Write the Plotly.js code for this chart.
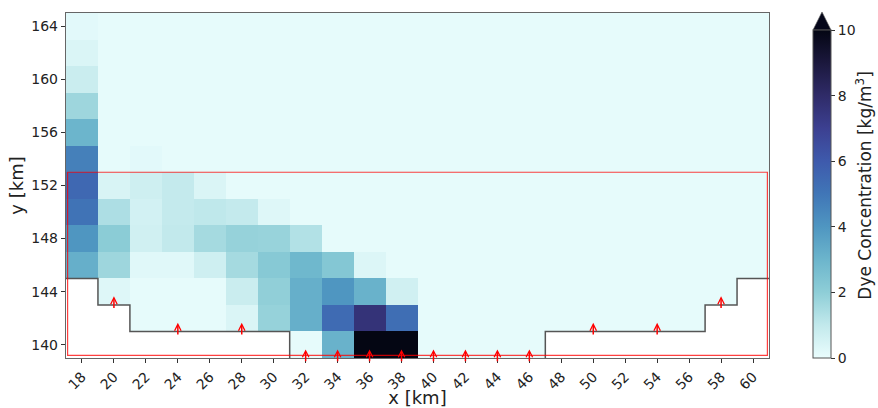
<!DOCTYPE html>
<html>
<head>
<meta charset="utf-8">
<script src="https://cdn.plot.ly/plotly-3.0.1.min.js"></script>
<style>html,body{margin:0;padding:0;background:#fff;}#chart{width:878px;height:408px;}</style>
</head>
<body>
<div id="chart"></div>
<script>
// x cell centres (km) and y cell centres (km)
const xCenters = [18,20,22,24,26,28,30,32,34,36,38,40,42,44,46,48,50,52,54,56,58,60];
const yCenters = [140,142,144,146,148,150,152,154,156,158,160,162,164];

// Dye concentration rows (kg/m^3), one per y centre; null = land
const row140 = [null,null,null,null,null,null,null,0.1,3.1,12,11,0.1,0.1,0.1,0.1,null,null,null,null,null,null,null];
const row142 = [null,null,0.1,0.1,0.1,0.4,1.85,3.2,5.4,7.6,5.3,0.1,0.1,0.1,0.1,0.1,0.1,0.1,0.1,0.1,null,null];
const row144 = [null,0.3,0.1,0.1,0.1,0.8,1.95,3.2,4.0,3.1,0.65,0.1,0.1,0.1,0.1,0.1,0.1,0.1,0.1,0.1,0.1,null];
const row146 = [3.2,1.7,0.25,0.25,0.7,1.55,2.2,2.9,2.3,0.35,0.1,0.1,0.1,0.1,0.1,0.1,0.1,0.1,0.1,0.1,0.1,0.1];
const row148 = [4.0,2.1,0.65,1.0,1.55,1.85,1.8,1.3,0.1,0.1,0.1,0.1,0.1,0.1,0.1,0.1,0.1,0.1,0.1,0.1,0.1,0.1];
const row150 = [5.1,1.4,0.6,0.95,1.05,0.95,0.3,0.1,0.1,0.1,0.1,0.1,0.1,0.1,0.1,0.1,0.1,0.1,0.1,0.1,0.1,0.1];
const row152 = [5.5,0.45,0.7,0.95,0.4,0.1,0.1,0.1,0.1,0.1,0.1,0.1,0.1,0.1,0.1,0.1,0.1,0.1,0.1,0.1,0.1,0.1];
const row154 = [4.7,0.1,0.2,0.1,0.1,0.1,0.1,0.1,0.1,0.1,0.1,0.1,0.1,0.1,0.1,0.1,0.1,0.1,0.1,0.1,0.1,0.1];
const row156 = [3.0,0.1,0.1,0.1,0.1,0.1,0.1,0.1,0.1,0.1,0.1,0.1,0.1,0.1,0.1,0.1,0.1,0.1,0.1,0.1,0.1,0.1];
const row158 = [1.7,0.1,0.1,0.1,0.1,0.1,0.1,0.1,0.1,0.1,0.1,0.1,0.1,0.1,0.1,0.1,0.1,0.1,0.1,0.1,0.1,0.1];
const row160 = [0.8,0.1,0.1,0.1,0.1,0.1,0.1,0.1,0.1,0.1,0.1,0.1,0.1,0.1,0.1,0.1,0.1,0.1,0.1,0.1,0.1,0.1];
const row162 = [0.4,0.1,0.1,0.1,0.1,0.1,0.1,0.1,0.1,0.1,0.1,0.1,0.1,0.1,0.1,0.1,0.1,0.1,0.1,0.1,0.1,0.1];
const row164 = [0.2,0.1,0.1,0.1,0.1,0.1,0.1,0.1,0.1,0.1,0.1,0.1,0.1,0.1,0.1,0.1,0.1,0.1,0.1,0.1,0.1,0.1];

// coastline (land boundary) polylines
const coastLeftX = [17,19,19,21,21,31,31];
const coastLeftY = [145,145,143,143,141,141,139];
const coastRightX = [47,47,57,57,59,59,61];
const coastRightY = [139,141,141,143,143,145,145];

// inflow arrows: x position and coast level
const arrowX = [20,24,28,32,34,36,38,40,42,44,46,50,54,58];
const arrowBase = [143,141,141,139,139,139,139,139,139,139,139,141,141,143];

// region box
const boxX = [17.1, 60.9];
const boxY = [139.2, 153];

const colorbarTicks = [0,2,4,6,8,10];

const iceR = [
  [0.0,'rgb(234,253,253)'],
  [0.1,'rgb(194,233,236)'],
  [0.2,'rgb(142,206,215)'],
  [0.3,'rgb(108,181,204)'],
  [0.4,'rgb(79,150,193)'],
  [0.5,'rgb(64,118,183)'],
  [0.6,'rgb(62,90,172)'],
  [0.7,'rgb(60,64,145)'],
  [0.8,'rgb(47,43,104)'],
  [0.9,'rgb(27,24,61)'],
  [1.0,'rgb(4,6,19)']
];

const z = [row140,row142,row144,row146,row148,row150,row152,row154,row156,row158,row160,row162,row164];

const font = 'DejaVu Sans, Liberation Sans, sans-serif';

const traces = [
  {
    type: 'heatmap', x: xCenters, y: yCenters, z: z,
    zmin: 0, zmax: 10, colorscale: iceR, hoverongaps: false,
    colorbar: {
      x: 1.0626, xanchor: 'left', xpad: 0, ypad: 0,
      y: 0, yanchor: 'bottom', len: 328, lenmode: 'pixels',
      thickness: 18, thicknessmode: 'pixels',
      outlinewidth: 1, outlinecolor: '#555',
      tickvals: colorbarTicks, ticks: 'outside', ticklen: 4, tickcolor: '#333',
      tickfont: {family: font, size: 14, color: '#222'}
    }
  },
  {type: 'scatter', mode: 'lines', x: coastLeftX, y: coastLeftY, line: {color: '#555', width: 1.5}, showlegend: false, hoverinfo: 'skip'},
  {type: 'scatter', mode: 'lines', x: coastRightX, y: coastRightY, line: {color: '#555', width: 1.5}, showlegend: false, hoverinfo: 'skip'}
];

const annotations = arrowX.map((x, i) => ({
  x: x, y: arrowBase[i] + 0.65, ax: x, ay: arrowBase[i] - 0.35,
  xref: 'x', yref: 'y', axref: 'x', ayref: 'y',
  text: '', showarrow: true, arrowhead: 5, arrowsize: 0.85, arrowwidth: 1.5,
  arrowcolor: 'red', standoff: 0, startstandoff: 0
}));
annotations.push({
  xref: 'paper', yref: 'paper', x: 1.134, y: 0.5, xanchor: 'center', yanchor: 'middle',
  textangle: -90, showarrow: false,
  text: 'Dye Concentration [kg/m<sup>3</sup>]',
  font: {family: font, size: 17, color: '#222'}
});

const layout = {
  width: 878, height: 408,
  margin: {l: 66, r: 109, t: 13, b: 50, autoexpand: false},
  paper_bgcolor: '#fff', plot_bgcolor: '#fff',
  font: {family: font, color: '#222'},
  showlegend: false,
  xaxis: {
    range: [17, 61], tickvals: xCenters, tickangle: -45,
    ticks: 'outside', ticklen: 4, tickcolor: '#333',
    tickfont: {family: font, size: 14, color: '#222'},
    showgrid: false, zeroline: false, showline: true, linecolor: '#666', linewidth: 1.2, mirror: true,
    automargin: false,
    title: {text: 'x [km]', font: {family: font, size: 18, color: '#222'}, standoff: 4}
  },
  yaxis: {
    range: [139, 165], tickvals: [140,144,148,152,156,160,164],
    ticks: 'outside', ticklen: 4, tickcolor: '#333',
    tickfont: {family: font, size: 14, color: '#222'},
    showgrid: false, zeroline: false, showline: true, linecolor: '#666', linewidth: 1.2, mirror: true,
    automargin: false,
    title: {text: 'y [km]', font: {family: font, size: 18, color: '#222'}, standoff: 3}
  },
  shapes: [
    {type: 'rect', xref: 'x', yref: 'y', x0: boxX[0], x1: boxX[1], y0: boxY[0], y1: boxY[1],
     line: {color: 'rgba(255,0,0,0.75)', width: 1.2}, fillcolor: 'rgba(0,0,0,0)'},
    {type: 'path', xref: 'paper', yref: 'paper',
     path: 'M 1.0626 0.9507 L 1.0882 0.9507 L 1.0754 1.0029 Z',
     fillcolor: '#05071a', line: {color: '#555', width: 0.6}}
  ],
  annotations: annotations
};

Plotly.newPlot('chart', traces, layout, {displayModeBar: false, staticPlot: true});
</script>
</body>
</html>
